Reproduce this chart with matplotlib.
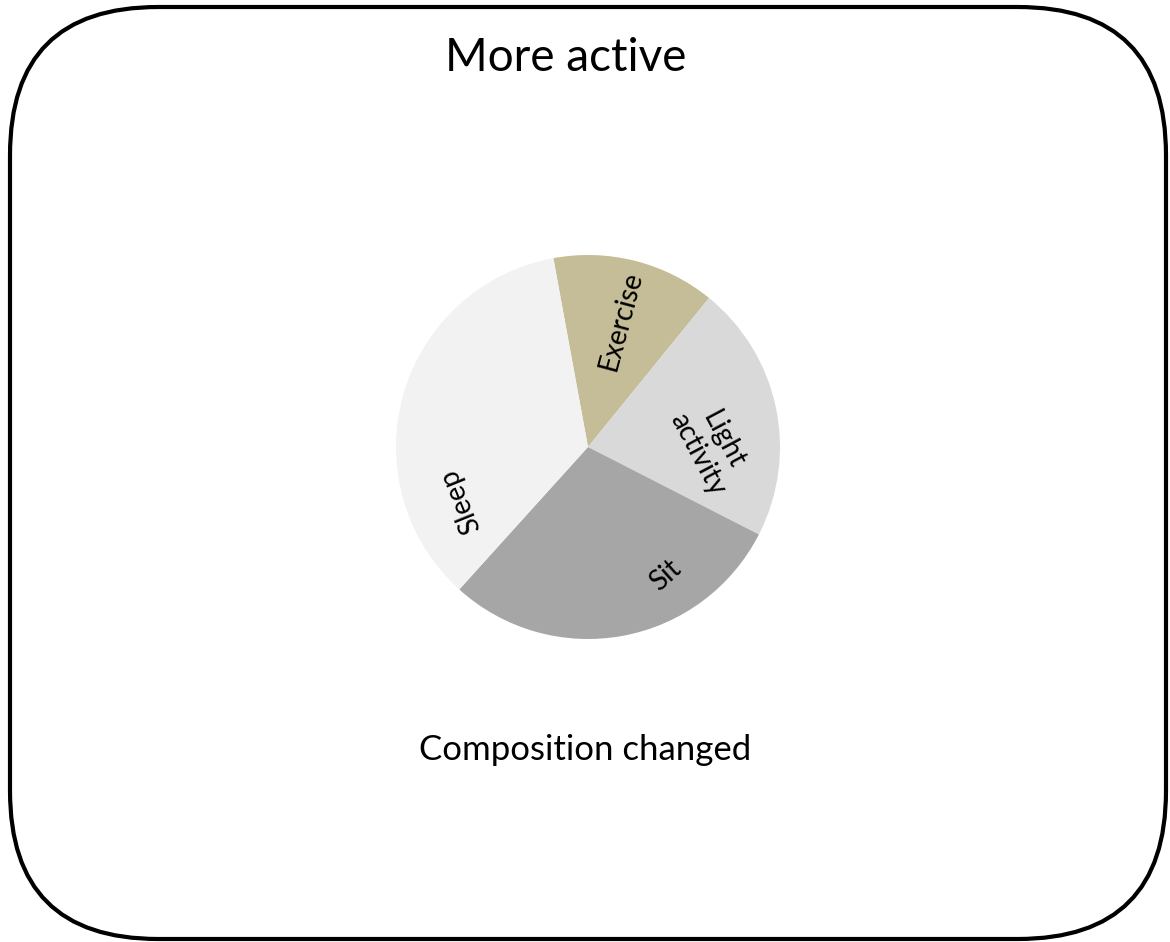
import matplotlib
matplotlib.use("Agg")
import matplotlib.pyplot as plt
from matplotlib.patches import FancyBboxPatch
import numpy as np

# hours per day in each behaviour
activities = ["Exercise", "Light\nactivity", "Sit", "Sleep"]
hours = [3.3, 5.2, 7.0, 8.5]
colors = ["#C4BD97", "#D9D9D9", "#A6A6A6", "#F2F2F2"]
label_rotation = [75, -62, 42, 112]

title = "More active"
caption = "Composition changed"

plt.rcParams['font.family'] = ['Lato', 'DejaVu Sans']

W, H = 1170, 942
fig = plt.figure(figsize=(W / 100, H / 100), dpi=100)
ax = fig.add_axes([0, 0, 1, 1])

# pie centre / radius in pixel units (y measured upwards)
cx, cy, r = 588, H - 447, 192
wedges, texts = ax.pie(hours, colors=colors, startangle=100.4, counterclock=False,
                       center=(cx, cy), radius=r,
                       wedgeprops=dict(linewidth=0))

# labels placed inside each wedge (fraction of radius, angle)
label_pos = [(0.68, 75.5), (0.64, 0), (0.78, -59), (0.72, 203)]
for name, rot, (f, ang) in zip(activities, label_rotation, label_pos):
    a = np.deg2rad(ang)
    ax.text(cx + f * r * np.cos(a), cy + f * r * np.sin(a), name,
            rotation=rot, ha="center", va="center", fontsize=20,
            color="black", linespacing=1.15, rotation_mode="anchor")

# rounded frame
box = FancyBboxPatch((10, 3), 1156, 932, boxstyle="round,pad=0,rounding_size=148",
                     fill=False, edgecolor="black", linewidth=3)
ax.add_patch(box)

ax.text(566, H - 58, title, ha="center", va="center", fontsize=33, color="black")
ax.text(585, H - 750, caption, ha="center", va="center", fontsize=25, color="black")

ax.set_xlim(0, W)
ax.set_ylim(0, H)
ax.set_aspect("equal")
ax.axis("off")

fig.savefig("out.png", dpi=100)
